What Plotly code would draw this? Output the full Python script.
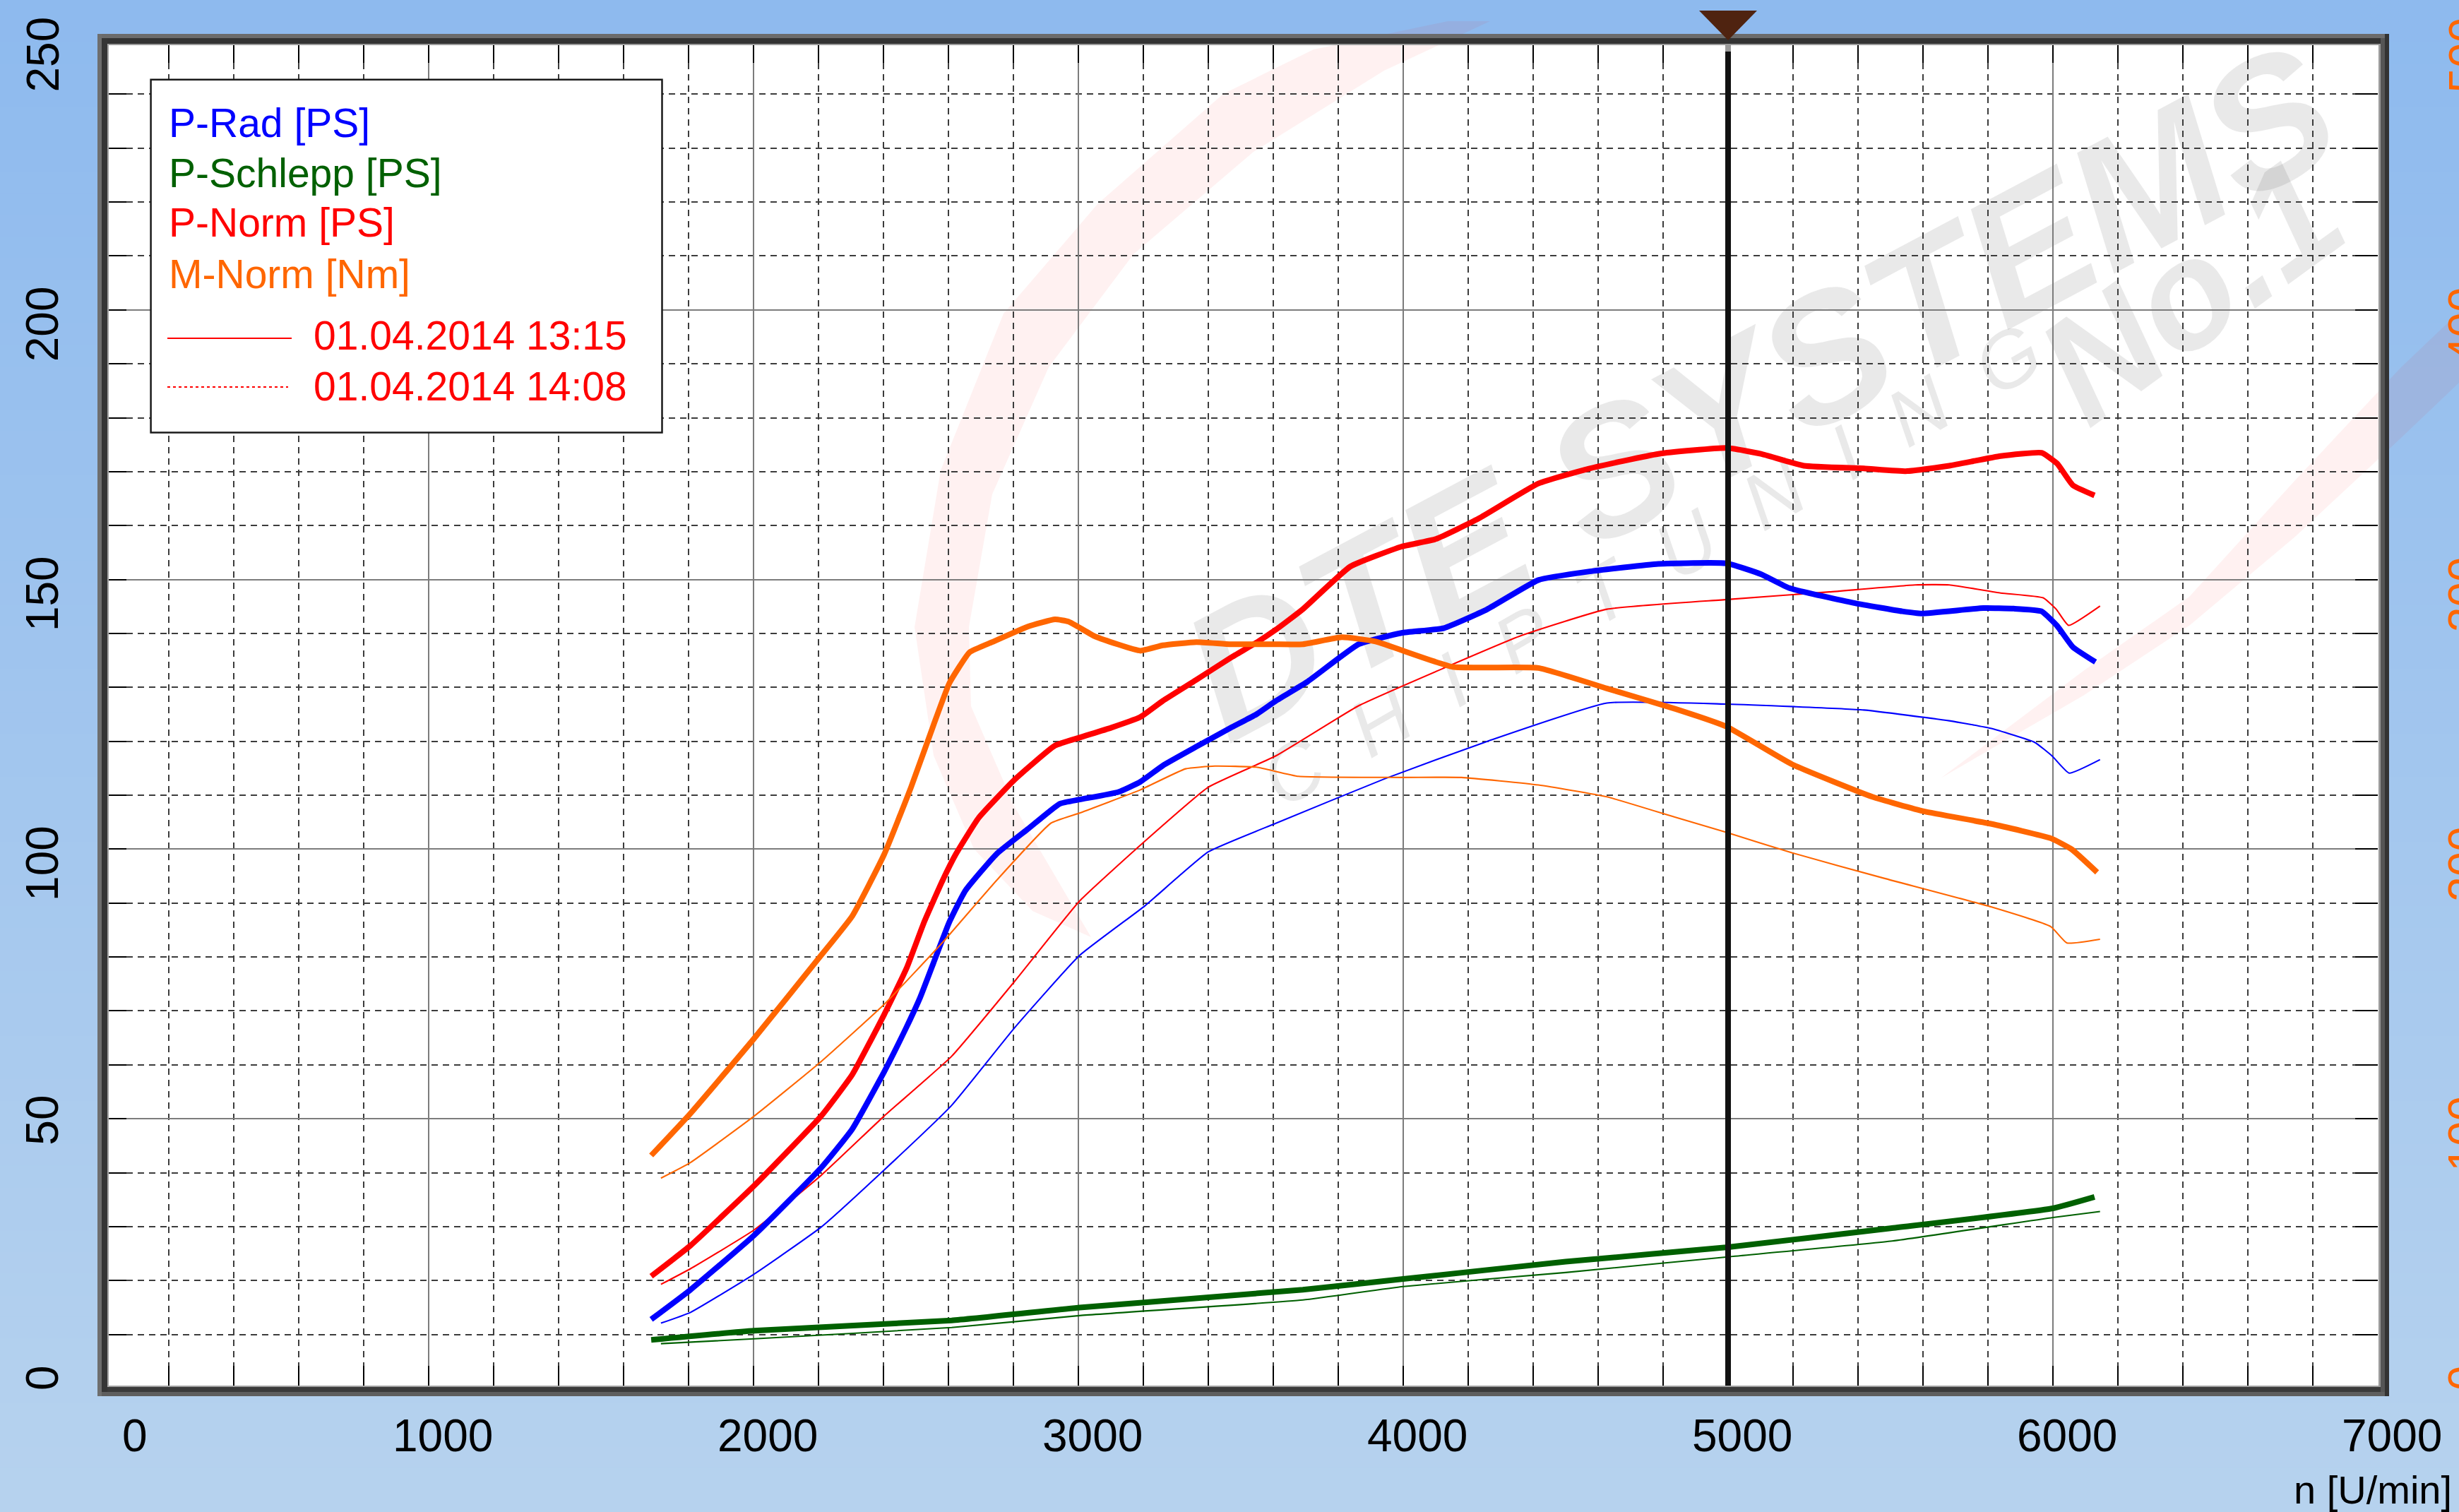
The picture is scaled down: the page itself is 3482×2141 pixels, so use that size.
import plotly.graph_objects as go

# ---------------- data ----------------
RUN_LABELS = ["01.04.2014 13:15", "01.04.2014 14:08"]
SERIES_LABELS = ["P-Rad [PS]", "P-Schlepp [PS]", "P-Norm [PS]", "M-Norm [Nm]"]

# run 1 (01.04.2014 13:15) - thick lines
rpm_p_rad_1 = [1685, 1806, 2002, 2208, 2304, 2402, 2471, 2513, 2554, 2603, 2652, 2748, 2846, 2942, 3004,
               3123, 3191, 3260, 3363, 3469, 3548, 3608, 3704, 3863, 3995, 4126, 4259, 4416, 4574, 4785,
               4996, 5101, 5189, 5391, 5536, 5596, 5786, 5880, 5965, 6013, 6061, 6131]
p_rad_1 = [12.8, 18.3, 28.4, 40.9, 48.1, 58.7, 67.0, 72.5, 78.9, 86.5, 92.3, 99.1, 103.8, 108.4, 109.2,
           110.6, 112.5, 115.5, 119.0, 122.5, 125.0, 127.5, 131.0, 138.0, 140.1, 141.0, 144.5, 149.9, 151.5, 152.9,
           153.0, 151.0, 148.4, 145.6, 144.1, 143.7, 144.7, 144.6, 144.1, 141.4, 137.5, 134.7]

rpm_p_norm_1 = [1685, 1806, 2002, 2208, 2304, 2402, 2471, 2526, 2582, 2623, 2693, 2804, 2928, 3004, 3100,
                3191, 3260, 3363, 3469, 3548, 3608, 3691, 3837, 3995, 4100, 4232, 4416, 4574, 4785, 4996,
                5101, 5233, 5418, 5550, 5681, 5839, 5965, 6013, 6061, 6128]
p_norm_1 = [20.8, 26.5, 37.6, 50.5, 58.2, 69.3, 77.9, 86.6, 94.2, 99.1, 105.8, 112.9, 119.2, 120.7, 122.5,
            124.5, 127.5, 131.4, 135.5, 138.3, 140.7, 144.5, 152.4, 156.1, 157.5, 161.3, 167.8, 170.6, 173.3, 174.4,
            173.3, 171.1, 170.6, 170.1, 171.1, 172.9, 173.5, 171.5, 167.5, 165.6]

rpm_m_norm_1 = [1685, 1806, 2002, 2208, 2304, 2402, 2485, 2554, 2603, 2665, 2735, 2846, 2928, 2970, 3053,
                3191, 3260, 3363, 3469, 3600, 3691, 3811, 3915, 4152, 4416, 4627, 4838, 4996, 5198, 5444,
                5603, 5809, 5994, 6057, 6136]
m_norm_1 = [86.4, 102.0, 129.8, 160.6, 175.2, 198.0, 223.0, 246.0, 261.6, 273.0, 276.8, 282.6, 285.2, 284.4, 278.8,
            273.6, 275.6, 276.8, 276.0, 276.0, 276.0, 278.6, 277.0, 267.6, 267.2, 259.6, 252.0, 245.4, 231.4, 219.4,
            214.0, 209.4, 204.0, 200.0, 191.4]

rpm_p_schlepp_1 = [1685, 2002, 2610, 3004, 3691, 4000, 4500, 5000, 5500, 6000, 6128]
p_schlepp_1 = [9.0, 10.7, 12.6, 15.0, 18.3, 20.3, 23.5, 26.2, 29.7, 33.4, 35.5]

# run 2 (01.04.2014 14:08) - thin lines
rpm_p_rad_2 = [1715, 1806, 2002, 2208, 2402, 2610, 2804, 3004, 3205, 3400, 3608, 3941, 4259, 4627, 4996,
               5418, 5681, 5808, 5944, 5997, 6050, 6145]
p_rad_2 = [12.1, 14.1, 21.2, 29.9, 40.5, 52.5, 66.9, 80.3, 89.5, 99.5, 104.8, 113.0, 120.0, 127.1, 126.9,
           125.8, 123.8, 122.4, 119.8, 117.3, 114.1, 116.6]

rpm_p_norm_2 = [1715, 1806, 2002, 2208, 2402, 2610, 2804, 3004, 3205, 3400, 3608, 3863, 4126, 4363, 4627,
                4998, 5312, 5576, 5681, 5839, 5970, 6010, 6048, 6145]
p_norm_2 = [19.3, 22.2, 29.4, 39.5, 50.5, 61.6, 75.5, 90.4, 101.5, 111.5, 117.3, 126.6, 133.6, 139.6, 144.5,
            146.3, 147.7, 149.0, 149.0, 147.5, 146.6, 144.5, 141.5, 145.1]

rpm_m_norm_2 = [1715, 1806, 2002, 2208, 2402, 2582, 2748, 2915, 3004, 3191, 3330, 3420, 3548, 3678, 3995,
                4179, 4416, 4627, 4838, 4996, 5198, 5480, 5809, 5994, 6043, 6145]
m_norm_2 = [78.0, 83.8, 101.0, 121.2, 142.4, 165.4, 188.4, 209.6, 213.4, 222.0, 229.8, 230.8, 230.4, 227.0, 226.6,
            226.6, 223.8, 219.4, 211.8, 206.2, 198.6, 189.2, 178.6, 171.2, 165.2, 166.6]

rpm_p_schlepp_2 = [1715, 2002, 2610, 3004, 3691, 4000, 4500, 5000, 5500, 6000, 6145]
p_schlepp_2 = [8.3, 9.2, 11.3, 13.5, 16.4, 18.9, 21.5, 24.4, 27.3, 31.7, 32.8]

x_ticks = [0, 1000, 2000, 3000, 4000, 5000, 6000, 7000]
y_ticks_ps = [0, 50, 100, 150, 200, 250]
y_ticks_nm = [0, 100, 200, 300, 400, 500]
cursor_rpm = 5000

# ---------------- geometry / style ----------------
W, H = 3482, 2141
ML, MR, MT, MB = 147, 115, 57, 175
PW, PH = W - ML - MR, H - MT - MB
FONT = "Liberation Sans, Arial, sans-serif"

BLUE, GREEN, RED, ORANGE = "#0000FF", "#006000", "#FF0000", "#FF6600"


def fx(px):
    return (px - ML) / PW


def fy(py):
    return (H - MB - py) / PH


def rect(x0, y0, x1, y1, color, layer="above"):
    return dict(type="rect", xref="paper", yref="paper", x0=fx(x0), x1=fx(x1), y0=fy(y1), y1=fy(y0),
                fillcolor=color, line=dict(width=0), layer=layer)


def poly(points, color, layer="below"):
    d = "M " + " L ".join("%.5f,%.5f" % (fx(a), fy(b)) for a, b in points) + " Z"
    return dict(type="path", xref="paper", yref="paper", path=d, fillcolor=color,
                line=dict(width=0), layer=layer)


shapes = []
# background gradient
top_c, bot_c = (142, 186, 238), (182, 210, 238)
N = 70
for i in range(N):
    t = i / (N - 1)
    c = tuple(round(top_c[k] + (bot_c[k] - top_c[k]) * t) for k in range(3))
    shapes.append(rect(-2, H * i / N - 1, W + 2, H * (i + 1) / N + 1, "rgb(%d,%d,%d)" % c, layer="below"))
# plot area white
shapes.append(rect(140, 50, 3380, 1975, "white", layer="below"))

# watermark swooshes
WM_RED = "rgba(255,0,0,0.055)"
shapes.append(poly([(2050, 30), (1860, 70), (1732, 133), (1554, 289), (1421, 444), (1332, 666), (1295, 888),
                    (1322, 1070), (1379, 1202), (1462, 1290), (1545, 1327),
                    (1437, 1143), (1375, 1000), (1372, 888), (1405, 700), (1485, 520), (1605, 360),
                    (1775, 215), (1960, 100), (2110, 30)], WM_RED))
shapes.append(poly([(2748, 1102), (2950, 985), (3100, 886), (3250, 760), (3400, 620), (3484, 540),
                    (3484, 440), (3400, 520), (3250, 680), (3100, 845), (2950, 950)], WM_RED))

WM_GRAY = "rgba(0,0,0,0.085)"


def wm(text, cx, cy, size, angle, weight="bold"):
    s = rect(cx - 1, cy - 1, cx + 1, cy + 1, "rgba(0,0,0,0)", layer="below")
    s["label"] = dict(text=text, textangle=angle, textposition="middle center",
                      font=dict(size=size, color=WM_GRAY, family=FONT, weight=weight, style="italic"))
    return s


shapes.append(wm("DTE SYSTEMS", 2480, 533, 255, -28))
shapes.append(wm("C \u00a0H \u00a0I \u00a0P \u00a0T \u00a0U \u00a0N \u00a0I \u00a0N \u00a0G", 2333, 791, 112, -30,
                 weight="normal"))
shapes.append(wm("No.1", 3090, 395, 215, -36))

# frame (bevel strips)
shapes += [
    rect(138, 48, 3383, 54, "#6b6b6b"), rect(138, 54, 3383, 62, "#333333"), rect(152, 62, 3370, 64, "#9c9c9c"),
    rect(138, 1971, 3383, 1977, "#5e5e5e"), rect(138, 1964, 3383, 1971, "#3a3a3a"),
    rect(152, 1962, 3370, 1964, "#a0a0a0"),
    rect(138, 48, 144, 1977, "#6e6e6e"), rect(144, 54, 152, 1971, "#353535"), rect(152, 62, 154, 1964, "#a5a5a5"),
    rect(3377, 48, 3383, 1977, "#333333"), rect(3371, 54, 3377, 1971, "#555555"),
    rect(3368, 62, 3371, 1964, "#9a9a9a"),
]

# cursor line at 5000 rpm + marker
cur_px = ML + cursor_rpm / 7000 * PW
shapes.append(dict(type="line", xref="x", yref="paper", x0=cursor_rpm, x1=cursor_rpm, y0=fy(1962), y1=fy(64),
                   line=dict(color="#111111", width=8), layer="above"))
shapes.append(rect(cur_px - 4, 64, cur_px + 4, 73, "#9a9a9a"))
shapes.append(poly([(cur_px - 41, 15), (cur_px + 41, 15), (cur_px, 57)], "#4F2310", layer="above"))

# legend box
shapes.append(dict(type="rect", xref="paper", yref="paper", x0=fx(213.6), x1=fx(937.5), y0=fy(612.4),
                   y1=fy(112.8), fillcolor="white", line=dict(color="#1a1a1a", width=2.5), layer="above"))
shapes.append(dict(type="line", xref="paper", yref="paper", x0=fx(237), x1=fx(413), y0=fy(479), y1=fy(479),
                   line=dict(color=RED, width=2), layer="above"))
shapes.append(dict(type="line", xref="paper", yref="paper", x0=fx(237), x1=fx(408), y0=fy(548), y1=fy(548),
                   line=dict(color=RED, width=2, dash="4px,4px"), layer="above"))

# ---------------- annotations ----------------
ann = []
legend_colors = [BLUE, GREEN, RED, ORANGE]
legend_y = [174, 244.6, 315, 387.6]
for lab, col, yy in zip(SERIES_LABELS, legend_colors, legend_y):
    ann.append(dict(text=lab, xref="paper", yref="paper", x=fx(237), y=fy(yy), xanchor="left",
                    yanchor="middle", showarrow=False, font=dict(family=FONT, size=57, color=col)))
for lab, yy in zip(RUN_LABELS, [475, 547]):
    ann.append(dict(text=lab, xref="paper", yref="paper", x=fx(442), y=fy(yy), xanchor="left",
                    yanchor="middle", showarrow=False, font=dict(family=FONT, size=57, color=RED)))

for v in x_ticks:
    ann.append(dict(text=str(v), xref="x", yref="paper", x=v, y=fy(2033.5), xanchor="center", yanchor="middle",
                    xshift=44 if v == 0 else 20, showarrow=False, font=dict(family=FONT, size=64, color="black")))
for v in y_ticks_ps:
    ann.append(dict(text=str(v), xref="paper", yref="y", x=fx(60), y=v, xanchor="center", yanchor="top",
                    yshift=35, textangle=-90, showarrow=False, font=dict(family=FONT, size=64, color="black")))
for v in y_ticks_nm:
    ann.append(dict(text=str(v), xref="paper", yref="y2", x=fx(3490), y=v, xanchor="center", yanchor="top",
                    yshift=35, textangle=-90, showarrow=False, font=dict(family=FONT, size=64, color=ORANGE)))
ann.append(dict(text="n [U/min]", xref="paper", yref="paper", x=fx(3474), y=fy(2109), xanchor="right",
                yanchor="middle", showarrow=False, font=dict(family=FONT, size=56, color="black")))

# ---------------- traces ----------------
fig = go.Figure()


def add(x, y, color, width, axis="y"):
    fig.add_trace(go.Scatter(x=x, y=y, mode="lines", yaxis=axis, showlegend=False, hoverinfo="skip",
                             line=dict(color=color, width=width, shape="spline", smoothing=0.4)))


THIN, THICK = 2.1, 8
add(rpm_m_norm_2, m_norm_2, ORANGE, THIN, "y2")
add(rpm_p_schlepp_2, p_schlepp_2, GREEN, THIN)
add(rpm_p_norm_2, p_norm_2, RED, THIN)
add(rpm_p_rad_2, p_rad_2, BLUE, THIN)
add(rpm_m_norm_1, m_norm_1, ORANGE, THICK, "y2")
add(rpm_p_schlepp_1, p_schlepp_1, GREEN, THICK)
add(rpm_p_norm_1, p_norm_1, RED, THICK)
add(rpm_p_rad_1, p_rad_1, BLUE, THICK)

axis_common = dict(showticklabels=False, ticks="inside", ticklen=32, tickwidth=2, tickcolor="black",
                   showgrid=True, gridcolor="#7c7c7c", gridwidth=2, zeroline=False, showline=False,
                   mirror="ticks", fixedrange=True)
fig.update_layout(
    width=W, height=H,
    margin=dict(l=ML, r=MR, t=MT, b=MB, pad=0),
    paper_bgcolor="rgb(160,198,238)", plot_bgcolor="rgba(0,0,0,0)",
    xaxis=dict(range=[0, 7000], tick0=0, dtick=1000,
               minor=dict(dtick=200, ticks="inside", ticklen=32, tickwidth=2, tickcolor="black", showgrid=True,
                          gridcolor="#3c3c3c", gridwidth=1.6, griddash="9px,7px"),
               **axis_common),
    yaxis=dict(range=[0, 250], tick0=0, dtick=50,
               minor=dict(dtick=10, ticks="inside", ticklen=32, tickwidth=2, tickcolor="black", showgrid=True,
                          gridcolor="#3c3c3c", gridwidth=1.6, griddash="9px,7px"),
               **axis_common),
    yaxis2=dict(range=[0, 500], overlaying="y", side="right", showgrid=False, showticklabels=False,
                ticks="", zeroline=False, showline=False, fixedrange=True),
    shapes=shapes, annotations=ann, showlegend=False, hovermode=False,
)

fig.write_html("out.html", config={"displayModeBar": False},
               post_script="document.body.style.margin='0px';document.body.style.overflow='hidden';")
